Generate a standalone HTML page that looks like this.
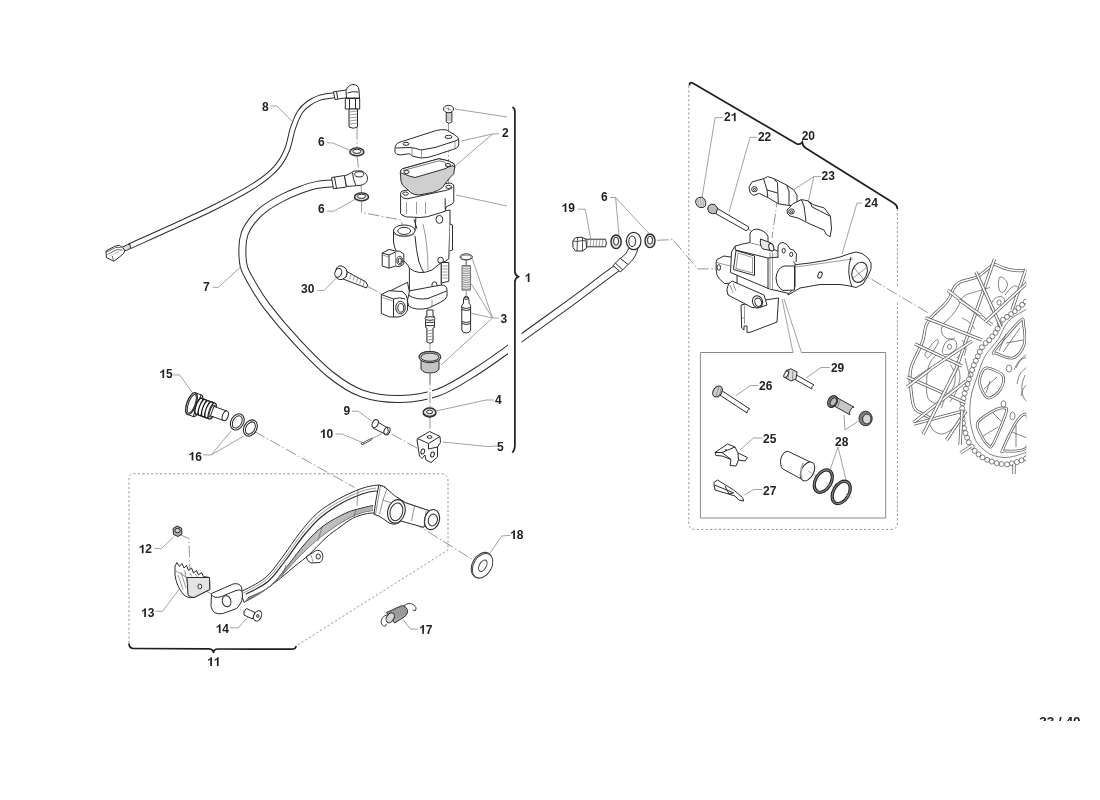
<!DOCTYPE html>
<html><head><meta charset="utf-8"><style>
html,body{margin:0;padding:0;background:#fff;width:1100px;height:800px;overflow:hidden}
svg{position:absolute;left:0;top:0;will-change:transform}
text{font-family:"Liberation Sans",sans-serif;font-weight:bold;font-size:12px;fill:#222}
.ld{fill:none;stroke:#8a8a8a;stroke-width:0.8}
.dd{fill:none;stroke:#8a8a8a;stroke-width:0.9;stroke-dasharray:11.5 2.5 1.5 2.5}
.br{fill:none;stroke:#1e1e1e;stroke-width:1.7}
.db{fill:none;stroke:#8a8a8a;stroke-width:0.9;stroke-dasharray:2.2 2.2}
.kb{fill:none;stroke:#8a8a8a;stroke-width:1}
.o{fill:#fff;stroke:#2b2b2b;stroke-width:1;stroke-linejoin:round}
.on{fill:none;stroke:#2b2b2b;stroke-width:1;stroke-linejoin:round}
.t{fill:none;stroke:#555;stroke-width:0.6}
.w{fill:none;stroke:#6a6a6a;stroke-width:0.7}
</style></head>
<body><svg width="1100" height="800" viewBox="0 0 1100 800"><path class="dd" d="M448.5,123.0 L448.5,186.0"/><path class="dd" d="M357.0,128.0 L357.0,148.0"/><path class="dd" d="M357.0,156.0 L359.0,172.0"/><path class="dd" d="M361.0,184.0 L361.5,194.0"/><path class="dd" d="M361.6,201.0 L361.6,212.5 L401.2,220.0 L403.0,228.8"/><path class="dd" d="M367.0,286.0 L383.5,295.0"/><path class="dd" d="M430.0,343.0 L430.0,352.0"/><path class="dd" d="M430.0,372.0 L430.0,408.0"/><path class="dd" d="M430.0,417.0 L430.0,431.0"/><path class="dd" d="M466.2,260.0 L466.2,265.0"/><path class="dd" d="M466.2,290.6 L466.2,296.0"/><path class="dd" d="M391.5,434.0 L418.2,448.7"/><path class="dd" d="M372.4,438.5 L382.0,433.5"/><path class="dd" d="M254.5,431.5 L354.5,487.5"/><path class="dd" d="M179.0,534.3 L188.8,538.4 L190.0,570.0"/><path class="dd" d="M202.5,589.3 L213.5,594.8"/><path class="dd" d="M227.3,603.0 L246.5,612.7"/><path class="dd" d="M397.5,512.5 L472.8,559.8"/><path class="dd" d="M657.0,240.3 L673.0,239.6 L697.7,268.9 L715.7,268.9"/><path class="dd" d="M856.0,270.0 L930.0,314.0"/><path class="dd" d="M778.0,196.0 L772.0,238.0"/><path class="dd" d="M748.0,229.0 L756.0,234.0"/><path class="dd" d="M625.0,241.0 L628.0,241.0"/><path class="dd" d="M611.0,242.0 L613.0,242.0"/><path class="db" d="M129,643 L129,479 Q129,473.75 134,473.75 L441,473.75 Q448,473.75 448,481 L448,550 L296,646"/><path class="db" d="M688.8,86 L688.8,523 Q688.8,529.4 695,529.4 L891,529.4 Q897.4,529.4 897.4,523 L897.4,302.4 M897.4,285.8 L897.4,209"/><path class="kb" d="M793,352.5 L700.4,352.5 L700.4,518 L885.7,518 L885.7,352.5 L801.4,352.5"/><clipPath id="wclip"><rect x="880" y="240" width="146.3" height="240"/></clipPath><g clip-path="url(#wclip)"><path d="M1027.0,270.5 C1025.0,270.5 1018.7,270.8 1015.0,270.5 C1011.3,270.2 1008.3,269.5 1005.0,268.5 C1001.7,267.5 997.5,264.8 995.0,264.5 C992.5,264.2 992.2,265.5 990.0,267.0 C987.8,268.5 984.6,271.7 982.0,273.5 C979.4,275.3 978.0,276.6 974.6,277.9 C971.2,279.2 964.5,280.2 961.5,281.4 C958.5,282.6 957.8,283.5 956.3,284.9 C954.8,286.3 954.0,287.8 952.8,290.0 C951.6,292.2 950.8,295.5 949.3,298.0 C947.8,300.5 946.5,302.4 944.0,305.0 C941.5,307.6 936.9,311.3 934.4,313.8 C931.9,316.3 930.5,317.8 929.0,320.0 C927.5,322.2 926.6,323.7 925.6,327.0 C924.6,330.3 924.3,335.8 923.0,340.0 C921.7,344.2 919.5,348.7 918.0,352.0 C916.5,355.3 915.2,357.3 914.0,360.0 C912.8,362.7 911.7,365.3 911.0,368.0 C910.3,370.7 910.0,372.3 910.0,376.0 C910.0,379.7 910.5,385.3 911.0,390.0 C911.5,394.7 912.2,400.7 913.0,404.0 C913.8,407.3 914.5,408.4 916.0,410.0 C917.5,411.6 919.7,412.2 922.0,413.5 C924.3,414.8 928.7,417.2 930.0,418.0" style="fill:none;stroke:#5a5a5a;stroke-width:3.05;stroke-linejoin:round"/><path d="M1027.0,270.5 C1025.0,270.5 1018.7,270.8 1015.0,270.5 C1011.3,270.2 1008.3,269.5 1005.0,268.5 C1001.7,267.5 997.5,264.8 995.0,264.5 C992.5,264.2 992.2,265.5 990.0,267.0 C987.8,268.5 984.6,271.7 982.0,273.5 C979.4,275.3 978.0,276.6 974.6,277.9 C971.2,279.2 964.5,280.2 961.5,281.4 C958.5,282.6 957.8,283.5 956.3,284.9 C954.8,286.3 954.0,287.8 952.8,290.0 C951.6,292.2 950.8,295.5 949.3,298.0 C947.8,300.5 946.5,302.4 944.0,305.0 C941.5,307.6 936.9,311.3 934.4,313.8 C931.9,316.3 930.5,317.8 929.0,320.0 C927.5,322.2 926.6,323.7 925.6,327.0 C924.6,330.3 924.3,335.8 923.0,340.0 C921.7,344.2 919.5,348.7 918.0,352.0 C916.5,355.3 915.2,357.3 914.0,360.0 C912.8,362.7 911.7,365.3 911.0,368.0 C910.3,370.7 910.0,372.3 910.0,376.0 C910.0,379.7 910.5,385.3 911.0,390.0 C911.5,394.7 912.2,400.7 913.0,404.0 C913.8,407.3 914.5,408.4 916.0,410.0 C917.5,411.6 919.7,412.2 922.0,413.5 C924.3,414.8 928.7,417.2 930.0,418.0" style="fill:none;stroke:#fff;stroke-width:1.55;stroke-linejoin:round"/><path style="fill:none;stroke:#5a5a5a;stroke-width:0.75;stroke-linejoin:round" d="M990.0,287.5 C987.5,288.2 978.9,290.8 975.0,292.0 C971.1,293.2 969.0,293.4 966.8,294.5 C964.5,295.6 963.0,296.8 961.5,298.9 C960.0,300.9 959.6,304.0 958.0,306.8 C956.4,309.6 954.2,312.7 951.9,315.5 C949.6,318.3 945.8,320.9 944.0,323.4 C942.2,325.9 941.4,328.2 941.4,330.4 C941.4,332.6 942.7,335.1 944.0,336.5 C945.3,337.9 947.5,338.8 949.3,339.0 C951.1,339.2 954.0,338.2 955.0,338.0"/><path style="fill:none;stroke:#5a5a5a;stroke-width:0.75;stroke-linejoin:round" d="M937.0,354.0 C936.0,355.2 932.6,358.2 931.0,361.0 C929.4,363.8 928.2,366.5 927.5,371.0 C926.8,375.5 926.4,383.5 926.5,388.0 C926.6,392.5 926.8,395.5 928.0,398.0 C929.2,400.5 931.8,401.9 934.0,403.0 C936.2,404.1 939.8,404.2 941.0,404.5"/><path style="fill:none;stroke:#5a5a5a;stroke-width:0.75;stroke-linejoin:round" d="M929.0,423.0 C929.8,424.3 931.8,429.2 934.0,431.0 C936.2,432.8 939.3,434.1 942.0,434.0 C944.7,433.9 947.7,432.0 950.0,430.5 C952.3,429.0 955.0,425.9 956.0,425.0"/><path style="fill:none;stroke:#5a5a5a;stroke-width:0.75;stroke-linejoin:round" d="M950.5,364.5 C951.2,366.2 954.5,371.2 955.0,375.0 C955.5,378.8 955.0,383.5 953.5,387.0 C952.0,390.5 948.0,392.5 946.0,396.0 C944.0,399.5 942.2,406.0 941.5,408.0"/><path style="fill:none;stroke:#5a5a5a;stroke-width:0.75;stroke-linejoin:round" d="M958.0,366.0 C958.3,368.0 960.3,373.7 960.0,378.0 C959.7,382.3 957.7,388.0 956.0,392.0 C954.3,396.0 951.0,400.3 950.0,402.0"/><path style="fill:none;stroke:#5a5a5a;stroke-width:0.75;stroke-linejoin:round" d="M962.0,340.0 C962.7,341.3 965.7,345.3 966.0,348.0 C966.3,350.7 964.3,354.7 964.0,356.0"/><path style="fill:none;stroke:#5a5a5a;stroke-width:0.75;stroke-linejoin:round" d="M957.0,358.0 C957.8,357.0 960.7,354.3 962.0,352.0 C963.3,349.7 964.5,345.3 965.0,344.0"/><path style="fill:none;stroke:#5a5a5a;stroke-width:0.75;stroke-linejoin:round" d="M965.0,358.0 C965.5,360.0 967.0,366.8 968.0,370.0 C969.0,373.2 970.5,375.8 971.0,377.0"/><path style="fill:none;stroke:#5a5a5a;stroke-width:0.75;stroke-linejoin:round" d="M962.0,318.0 C963.2,318.7 966.8,320.2 969.0,322.0 C971.2,323.8 974.0,327.8 975.0,329.0"/><path style="fill:none;stroke:#5a5a5a;stroke-width:0.75;stroke-linejoin:round" d="M1000.0,277.0 C1001.1,276.4 1003.8,278.2 1005.0,279.5 C1006.2,280.8 1007.8,282.9 1007.5,285.0 C1007.2,287.1 1004.8,291.1 1003.5,292.0 C1002.2,292.9 1000.3,292.0 999.5,290.5 C998.7,289.0 998.4,285.2 998.5,283.0 C998.6,280.8 998.9,277.6 1000.0,277.0Z"/><path style="fill:none;stroke:#5a5a5a;stroke-width:0.75;stroke-linejoin:round" d="M990.5,306.0 C990.9,304.2 992.4,301.1 994.0,299.5 C995.6,297.9 998.2,296.5 1000.0,296.5 C1001.8,296.5 1003.9,297.8 1004.5,299.5 C1005.1,301.2 1004.8,304.7 1003.5,306.5 C1002.2,308.3 999.0,309.9 997.0,310.5 C995.0,311.1 992.6,310.8 991.5,310.0 C990.4,309.2 990.1,307.8 990.5,306.0Z"/><ellipse cx="999" cy="302.5" rx="2" ry="2.6" style="fill:none;stroke:#5a5a5a;stroke-width:0.75;stroke-linejoin:round"/><path style="fill:none;stroke:#5a5a5a;stroke-width:0.75;stroke-linejoin:round" d="M942.5,350.0 C942.9,348.0 944.4,343.8 946.0,342.0 C947.6,340.2 950.2,339.4 952.0,339.5 C953.8,339.6 955.9,340.8 956.5,342.5 C957.1,344.2 956.8,347.6 955.5,349.5 C954.2,351.4 951.0,353.2 949.0,354.0 C947.0,354.8 944.6,354.7 943.5,354.0 C942.4,353.3 942.1,352.0 942.5,350.0Z"/><ellipse cx="949.5" cy="346.8" rx="2" ry="2.6" style="fill:none;stroke:#5a5a5a;stroke-width:0.75;stroke-linejoin:round"/><path style="fill:none;stroke:#5a5a5a;stroke-width:0.75;stroke-linejoin:round" d="M935.5,340.5 C937.6,338.8 939.1,340.2 938.0,343.0 C936.9,345.8 931.0,354.8 929.0,357.0 C927.0,359.2 926.6,357.2 926.0,356.5 C925.4,355.8 923.9,355.7 925.5,353.0 C927.1,350.3 933.4,342.2 935.5,340.5Z"/><path style="fill:none;stroke:#5a5a5a;stroke-width:0.75;stroke-linejoin:round" d="M1005.0,295.0 C1006.0,293.8 1009.2,289.5 1011.0,288.0 C1012.8,286.5 1014.5,285.7 1016.0,286.0 C1017.5,286.3 1019.3,289.3 1020.0,290.0"/><circle cx="1025.8" cy="301.6" r="2.5" style="fill:none;stroke:#5a5a5a;stroke-width:0.75;stroke-linejoin:round"/><circle cx="1022.1" cy="304.8" r="2.5" style="fill:none;stroke:#5a5a5a;stroke-width:0.75;stroke-linejoin:round"/><circle cx="1018.4" cy="308.0" r="2.5" style="fill:none;stroke:#5a5a5a;stroke-width:0.75;stroke-linejoin:round"/><circle cx="1014.7" cy="311.2" r="2.5" style="fill:none;stroke:#5a5a5a;stroke-width:0.75;stroke-linejoin:round"/><circle cx="1011.0" cy="314.1" r="2.5" style="fill:none;stroke:#5a5a5a;stroke-width:0.75;stroke-linejoin:round"/><circle cx="1007.0" cy="316.9" r="2.5" style="fill:none;stroke:#5a5a5a;stroke-width:0.75;stroke-linejoin:round"/><circle cx="1002.9" cy="319.8" r="2.5" style="fill:none;stroke:#5a5a5a;stroke-width:0.75;stroke-linejoin:round"/><circle cx="999.8" cy="324.5" r="2.5" style="fill:none;stroke:#5a5a5a;stroke-width:0.75;stroke-linejoin:round"/><circle cx="997.6" cy="328.8" r="2.5" style="fill:none;stroke:#5a5a5a;stroke-width:0.75;stroke-linejoin:round"/><circle cx="995.6" cy="332.8" r="2.5" style="fill:none;stroke:#5a5a5a;stroke-width:0.75;stroke-linejoin:round"/><circle cx="992.4" cy="336.5" r="2.5" style="fill:none;stroke:#5a5a5a;stroke-width:0.75;stroke-linejoin:round"/><circle cx="989.2" cy="340.2" r="2.5" style="fill:none;stroke:#5a5a5a;stroke-width:0.75;stroke-linejoin:round"/><circle cx="985.7" cy="343.2" r="2.5" style="fill:none;stroke:#5a5a5a;stroke-width:0.75;stroke-linejoin:round"/><circle cx="981.9" cy="347.3" r="2.5" style="fill:none;stroke:#5a5a5a;stroke-width:0.75;stroke-linejoin:round"/><circle cx="979.8" cy="351.8" r="2.5" style="fill:none;stroke:#5a5a5a;stroke-width:0.75;stroke-linejoin:round"/><circle cx="977.8" cy="356.3" r="2.5" style="fill:none;stroke:#5a5a5a;stroke-width:0.75;stroke-linejoin:round"/><circle cx="975.8" cy="360.8" r="2.5" style="fill:none;stroke:#5a5a5a;stroke-width:0.75;stroke-linejoin:round"/><circle cx="973.8" cy="365.2" r="2.5" style="fill:none;stroke:#5a5a5a;stroke-width:0.75;stroke-linejoin:round"/><circle cx="972.1" cy="370.0" r="2.5" style="fill:none;stroke:#5a5a5a;stroke-width:0.75;stroke-linejoin:round"/><circle cx="970.6" cy="374.6" r="2.5" style="fill:none;stroke:#5a5a5a;stroke-width:0.75;stroke-linejoin:round"/><circle cx="969.0" cy="379.3" r="2.5" style="fill:none;stroke:#5a5a5a;stroke-width:0.75;stroke-linejoin:round"/><circle cx="967.5" cy="383.9" r="2.5" style="fill:none;stroke:#5a5a5a;stroke-width:0.75;stroke-linejoin:round"/><circle cx="966.0" cy="388.7" r="2.5" style="fill:none;stroke:#5a5a5a;stroke-width:0.75;stroke-linejoin:round"/><circle cx="964.6" cy="393.4" r="2.5" style="fill:none;stroke:#5a5a5a;stroke-width:0.75;stroke-linejoin:round"/><circle cx="963.5" cy="398.3" r="2.5" style="fill:none;stroke:#5a5a5a;stroke-width:0.75;stroke-linejoin:round"/><circle cx="962.5" cy="403.1" r="2.5" style="fill:none;stroke:#5a5a5a;stroke-width:0.75;stroke-linejoin:round"/><circle cx="962.2" cy="408.3" r="2.5" style="fill:none;stroke:#5a5a5a;stroke-width:0.75;stroke-linejoin:round"/><circle cx="962.2" cy="413.2" r="2.5" style="fill:none;stroke:#5a5a5a;stroke-width:0.75;stroke-linejoin:round"/><circle cx="962.5" cy="418.3" r="2.5" style="fill:none;stroke:#5a5a5a;stroke-width:0.75;stroke-linejoin:round"/><circle cx="963.0" cy="423.2" r="2.5" style="fill:none;stroke:#5a5a5a;stroke-width:0.75;stroke-linejoin:round"/><circle cx="964.1" cy="428.3" r="2.5" style="fill:none;stroke:#5a5a5a;stroke-width:0.75;stroke-linejoin:round"/><circle cx="965.5" cy="433.0" r="2.5" style="fill:none;stroke:#5a5a5a;stroke-width:0.75;stroke-linejoin:round"/><circle cx="967.1" cy="437.7" r="2.5" style="fill:none;stroke:#5a5a5a;stroke-width:0.75;stroke-linejoin:round"/><circle cx="968.8" cy="442.3" r="2.5" style="fill:none;stroke:#5a5a5a;stroke-width:0.75;stroke-linejoin:round"/><circle cx="971.7" cy="446.9" r="2.5" style="fill:none;stroke:#5a5a5a;stroke-width:0.75;stroke-linejoin:round"/><circle cx="974.6" cy="450.8" r="2.5" style="fill:none;stroke:#5a5a5a;stroke-width:0.75;stroke-linejoin:round"/><circle cx="978.6" cy="454.4" r="2.5" style="fill:none;stroke:#5a5a5a;stroke-width:0.75;stroke-linejoin:round"/><circle cx="982.5" cy="457.4" r="2.5" style="fill:none;stroke:#5a5a5a;stroke-width:0.75;stroke-linejoin:round"/><circle cx="987.2" cy="459.8" r="2.5" style="fill:none;stroke:#5a5a5a;stroke-width:0.75;stroke-linejoin:round"/><circle cx="991.8" cy="461.6" r="2.5" style="fill:none;stroke:#5a5a5a;stroke-width:0.75;stroke-linejoin:round"/><circle cx="996.7" cy="463.2" r="2.5" style="fill:none;stroke:#5a5a5a;stroke-width:0.75;stroke-linejoin:round"/><circle cx="1001.6" cy="464.1" r="2.5" style="fill:none;stroke:#5a5a5a;stroke-width:0.75;stroke-linejoin:round"/><circle cx="1007.1" cy="464.4" r="2.5" style="fill:none;stroke:#5a5a5a;stroke-width:0.75;stroke-linejoin:round"/><circle cx="1011.9" cy="463.5" r="2.5" style="fill:none;stroke:#5a5a5a;stroke-width:0.75;stroke-linejoin:round"/><circle cx="1016.9" cy="462.1" r="2.5" style="fill:none;stroke:#5a5a5a;stroke-width:0.75;stroke-linejoin:round"/><circle cx="1021.5" cy="460.3" r="2.5" style="fill:none;stroke:#5a5a5a;stroke-width:0.75;stroke-linejoin:round"/><circle cx="1026.0" cy="458.4" r="2.5" style="fill:none;stroke:#5a5a5a;stroke-width:0.75;stroke-linejoin:round"/><path style="fill:none;stroke:#5a5a5a;stroke-width:0.75;stroke-linejoin:round" d="M1027.0,309.0 C1024.5,310.5 1015.7,315.2 1012.0,318.0 C1008.3,320.8 1007.2,322.7 1005.0,326.0 C1002.8,329.3 1001.2,334.5 999.0,338.0 C996.8,341.5 994.3,344.0 992.0,347.0 C989.7,350.0 987.0,352.5 985.0,356.0 C983.0,359.5 981.5,364.0 980.0,368.0 C978.5,372.0 977.3,376.0 976.0,380.0 C974.7,384.0 973.0,387.8 972.0,392.0 C971.0,396.2 970.3,400.7 970.0,405.0 C969.7,409.3 969.7,413.8 970.0,418.0 C970.3,422.2 971.0,426.2 972.0,430.0 C973.0,433.8 974.2,437.8 976.0,441.0 C977.8,444.2 980.3,446.7 983.0,449.0 C985.7,451.3 988.5,453.6 992.0,455.0 C995.5,456.4 1000.2,457.3 1004.0,457.5 C1007.8,457.7 1011.2,456.9 1015.0,456.0 C1018.8,455.1 1025.0,452.7 1027.0,452.0"/><path d="M995.0,350.0 C998.8,344.6 1015.2,325.3 1020.0,321.0 C1024.8,316.7 1022.8,320.0 1023.5,324.0 C1024.2,328.0 1025.8,339.3 1024.0,345.0 C1022.2,350.7 1017.5,356.6 1013.0,358.0 C1008.5,359.4 1000.0,354.8 997.0,353.5 C994.0,352.2 991.2,355.4 995.0,350.0Z" style="fill:none;stroke:#5a5a5a;stroke-width:2.75;stroke-linejoin:round"/><path d="M995.0,350.0 C998.8,344.6 1015.2,325.3 1020.0,321.0 C1024.8,316.7 1022.8,320.0 1023.5,324.0 C1024.2,328.0 1025.8,339.3 1024.0,345.0 C1022.2,350.7 1017.5,356.6 1013.0,358.0 C1008.5,359.4 1000.0,354.8 997.0,353.5 C994.0,352.2 991.2,355.4 995.0,350.0Z" style="fill:none;stroke:#fff;stroke-width:1.25;stroke-linejoin:round"/><path style="fill:none;stroke:#5a5a5a;stroke-width:0.75;stroke-linejoin:round" d="M999.0,351.0 L1006.0,334.0"/><path style="fill:none;stroke:#5a5a5a;stroke-width:0.75;stroke-linejoin:round" d="M1003.0,352.0 L1020.0,328.0"/><path style="fill:none;stroke:#5a5a5a;stroke-width:0.75;stroke-linejoin:round" d="M1006.0,343.0 L1023.0,340.0"/><path d="M982.0,372.0 C983.3,369.2 984.5,367.3 988.0,368.0 C991.5,368.7 1001.0,372.3 1003.0,376.0 C1005.0,379.7 1002.5,386.3 1000.0,390.0 C997.5,393.7 991.3,398.8 988.0,398.0 C984.7,397.2 981.0,389.3 980.0,385.0 C979.0,380.7 980.7,374.8 982.0,372.0Z" style="fill:none;stroke:#5a5a5a;stroke-width:2.75;stroke-linejoin:round"/><path d="M982.0,372.0 C983.3,369.2 984.5,367.3 988.0,368.0 C991.5,368.7 1001.0,372.3 1003.0,376.0 C1005.0,379.7 1002.5,386.3 1000.0,390.0 C997.5,393.7 991.3,398.8 988.0,398.0 C984.7,397.2 981.0,389.3 980.0,385.0 C979.0,380.7 980.7,374.8 982.0,372.0Z" style="fill:none;stroke:#fff;stroke-width:1.25;stroke-linejoin:round"/><path style="fill:none;stroke:#5a5a5a;stroke-width:0.75;stroke-linejoin:round" d="M984.0,389.0 L997.0,377.0"/><path style="fill:none;stroke:#5a5a5a;stroke-width:0.75;stroke-linejoin:round" d="M986.0,393.0 L990.0,381.0"/><path d="M978.0,422.0 C980.5,418.2 990.7,412.3 995.0,410.0 C999.3,407.7 1002.2,407.5 1004.0,408.0 C1005.8,408.5 1007.8,407.0 1006.0,413.0 C1004.2,419.0 996.0,438.7 993.0,444.0 C990.0,449.3 990.2,446.8 988.0,445.0 C985.8,443.2 981.7,436.8 980.0,433.0 C978.3,429.2 975.5,425.8 978.0,422.0Z" style="fill:none;stroke:#5a5a5a;stroke-width:2.75;stroke-linejoin:round"/><path d="M978.0,422.0 C980.5,418.2 990.7,412.3 995.0,410.0 C999.3,407.7 1002.2,407.5 1004.0,408.0 C1005.8,408.5 1007.8,407.0 1006.0,413.0 C1004.2,419.0 996.0,438.7 993.0,444.0 C990.0,449.3 990.2,446.8 988.0,445.0 C985.8,443.2 981.7,436.8 980.0,433.0 C978.3,429.2 975.5,425.8 978.0,422.0Z" style="fill:none;stroke:#fff;stroke-width:1.25;stroke-linejoin:round"/><path style="fill:none;stroke:#5a5a5a;stroke-width:0.75;stroke-linejoin:round" d="M983.0,436.0 L998.0,427.0"/><path style="fill:none;stroke:#5a5a5a;stroke-width:0.75;stroke-linejoin:round" d="M992.0,412.0 L1001.0,421.0"/><path d="M1003.0,449.0 C1005.0,444.0 1013.0,426.5 1017.0,421.0 C1021.0,415.5 1025.3,411.7 1027.0,416.0 C1028.7,420.3 1030.7,441.2 1027.0,447.0 C1023.3,452.8 1009.0,450.7 1005.0,451.0 C1001.0,451.3 1001.0,454.0 1003.0,449.0Z" style="fill:none;stroke:#5a5a5a;stroke-width:2.75;stroke-linejoin:round"/><path d="M1003.0,449.0 C1005.0,444.0 1013.0,426.5 1017.0,421.0 C1021.0,415.5 1025.3,411.7 1027.0,416.0 C1028.7,420.3 1030.7,441.2 1027.0,447.0 C1023.3,452.8 1009.0,450.7 1005.0,451.0 C1001.0,451.3 1001.0,454.0 1003.0,449.0Z" style="fill:none;stroke:#fff;stroke-width:1.25;stroke-linejoin:round"/><path style="fill:none;stroke:#5a5a5a;stroke-width:0.75;stroke-linejoin:round" d="M1016.0,425.0 L1016.0,447.0"/><path style="fill:none;stroke:#5a5a5a;stroke-width:0.75;stroke-linejoin:round" d="M1012.0,432.0 L1027.0,438.0"/><ellipse cx="1009.0" cy="368.5" rx="2.6" ry="3.6" style="fill:none;stroke:#5a5a5a;stroke-width:0.75;stroke-linejoin:round"/><ellipse cx="1012.5" cy="416.0" rx="2.6" ry="3.8" style="fill:none;stroke:#5a5a5a;stroke-width:0.75;stroke-linejoin:round"/><ellipse cx="1003.5" cy="404.0" rx="2.4" ry="3.3" style="fill:none;stroke:#5a5a5a;stroke-width:0.75;stroke-linejoin:round"/><path style="fill:none;stroke:#5a5a5a;stroke-width:0.75;stroke-linejoin:round" d="M1014.0,370.0 C1014.8,368.5 1016.8,363.7 1019.0,361.0 C1021.2,358.3 1025.7,355.2 1027.0,354.0"/><path style="fill:none;stroke:#5a5a5a;stroke-width:0.75;stroke-linejoin:round" d="M1016.0,368.0 C1016.8,366.7 1019.2,361.8 1021.0,360.0 C1022.8,358.2 1026.0,357.5 1027.0,357.0"/><path style="fill:none;stroke:#5a5a5a;stroke-width:0.75;stroke-linejoin:round" d="M1017.0,384.0 C1017.5,382.3 1018.3,376.8 1020.0,374.0 C1021.7,371.2 1025.8,368.2 1027.0,367.0"/><path style="fill:none;stroke:#5a5a5a;stroke-width:0.75;stroke-linejoin:round" d="M1021.0,396.0 C1021.3,394.8 1022.0,390.8 1023.0,389.0 C1024.0,387.2 1026.3,385.7 1027.0,385.0"/><path style="fill:none;stroke:#5a5a5a;stroke-width:0.75;stroke-linejoin:round" d="M1025.0,375.0 C1024.5,376.7 1022.3,381.5 1022.0,385.0 C1021.7,388.5 1022.2,393.2 1023.0,396.0 C1023.8,398.8 1026.3,401.0 1027.0,402.0"/><path d="M994.5,259.0 L955.0,372.0" style="fill:none;stroke:#5a5a5a;stroke-width:3.25;stroke-linejoin:round"/><path d="M994.5,259.0 L955.0,372.0" style="fill:none;stroke:#fff;stroke-width:1.75;stroke-linejoin:round"/><path d="M976.0,272.0 L1001.0,327.0" style="fill:none;stroke:#5a5a5a;stroke-width:3.25;stroke-linejoin:round"/><path d="M976.0,272.0 L1001.0,327.0" style="fill:none;stroke:#fff;stroke-width:1.75;stroke-linejoin:round"/><path d="M947.5,290.0 L992.0,325.0" style="fill:none;stroke:#5a5a5a;stroke-width:3.25;stroke-linejoin:round"/><path d="M947.5,290.0 L992.0,325.0" style="fill:none;stroke:#fff;stroke-width:1.75;stroke-linejoin:round"/><path d="M1026.0,269.0 L1012.0,310.0" style="fill:none;stroke:#5a5a5a;stroke-width:3.25;stroke-linejoin:round"/><path d="M1026.0,269.0 L1012.0,310.0" style="fill:none;stroke:#fff;stroke-width:1.75;stroke-linejoin:round"/><path d="M1027.0,283.0 L985.0,322.0" style="fill:none;stroke:#5a5a5a;stroke-width:3.25;stroke-linejoin:round"/><path d="M1027.0,283.0 L985.0,322.0" style="fill:none;stroke:#fff;stroke-width:1.75;stroke-linejoin:round"/><path d="M925.2,317.7 L982.0,340.0" style="fill:none;stroke:#5a5a5a;stroke-width:3.25;stroke-linejoin:round"/><path d="M925.2,317.7 L982.0,340.0" style="fill:none;stroke:#fff;stroke-width:1.75;stroke-linejoin:round"/><path d="M915.0,344.0 L962.0,366.0" style="fill:none;stroke:#5a5a5a;stroke-width:3.25;stroke-linejoin:round"/><path d="M915.0,344.0 L962.0,366.0" style="fill:none;stroke:#fff;stroke-width:1.75;stroke-linejoin:round"/><path d="M972.0,341.0 L914.0,380.0" style="fill:none;stroke:#5a5a5a;stroke-width:3.25;stroke-linejoin:round"/><path d="M972.0,341.0 L914.0,380.0" style="fill:none;stroke:#fff;stroke-width:1.75;stroke-linejoin:round"/><path d="M907.0,377.0 L965.0,402.5" style="fill:none;stroke:#5a5a5a;stroke-width:3.25;stroke-linejoin:round"/><path d="M907.0,377.0 L965.0,402.5" style="fill:none;stroke:#fff;stroke-width:1.75;stroke-linejoin:round"/><path d="M907.0,387.0 L931.0,369.0" style="fill:none;stroke:#5a5a5a;stroke-width:3.25;stroke-linejoin:round"/><path d="M907.0,387.0 L931.0,369.0" style="fill:none;stroke:#fff;stroke-width:1.75;stroke-linejoin:round"/><path d="M913.5,422.5 L966.0,381.0" style="fill:none;stroke:#5a5a5a;stroke-width:3.25;stroke-linejoin:round"/><path d="M913.5,422.5 L966.0,381.0" style="fill:none;stroke:#fff;stroke-width:1.75;stroke-linejoin:round"/><path d="M914.0,424.0 L963.0,411.0" style="fill:none;stroke:#5a5a5a;stroke-width:3.25;stroke-linejoin:round"/><path d="M914.0,424.0 L963.0,411.0" style="fill:none;stroke:#fff;stroke-width:1.75;stroke-linejoin:round"/><path d="M923.0,434.5 L956.0,369.0" style="fill:none;stroke:#5a5a5a;stroke-width:3.25;stroke-linejoin:round"/><path d="M923.0,434.5 L956.0,369.0" style="fill:none;stroke:#fff;stroke-width:1.75;stroke-linejoin:round"/><path d="M946.5,440.0 L966.0,411.0" style="fill:none;stroke:#5a5a5a;stroke-width:3.25;stroke-linejoin:round"/><path d="M946.5,440.0 L966.0,411.0" style="fill:none;stroke:#fff;stroke-width:1.75;stroke-linejoin:round"/><path d="M960.0,445.0 L962.0,411.0" style="fill:none;stroke:#5a5a5a;stroke-width:3.25;stroke-linejoin:round"/><path d="M960.0,445.0 L962.0,411.0" style="fill:none;stroke:#fff;stroke-width:1.75;stroke-linejoin:round"/><path d="M960.5,453.0 L971.0,446.0" style="fill:none;stroke:#5a5a5a;stroke-width:3.25;stroke-linejoin:round"/><path d="M960.5,453.0 L971.0,446.0" style="fill:none;stroke:#fff;stroke-width:1.75;stroke-linejoin:round"/><path d="M1014.0,464.0 L1014.0,474.0" style="fill:none;stroke:#5a5a5a;stroke-width:3.25;stroke-linejoin:round"/><path d="M1014.0,464.0 L1014.0,474.0" style="fill:none;stroke:#fff;stroke-width:1.75;stroke-linejoin:round"/><path d="M959.0,300.0 L981.0,315.0" style="fill:none;stroke:#5a5a5a;stroke-width:3.25;stroke-linejoin:round"/><path d="M959.0,300.0 L981.0,315.0" style="fill:none;stroke:#fff;stroke-width:1.75;stroke-linejoin:round"/></g><path d="M129.5,246.3 C136.2,243.2 155.8,234.6 170.0,228.0 C184.2,221.4 200.8,214.2 215.0,207.0 C229.2,199.8 244.8,191.5 255.0,185.0 C265.2,178.5 270.7,173.8 276.0,168.0 C281.3,162.2 284.2,156.7 287.0,150.0 C289.8,143.3 290.8,134.3 293.0,128.0 C295.2,121.7 297.4,116.1 300.0,112.0 C302.6,107.9 305.3,105.8 308.5,103.5 C311.7,101.2 314.8,99.4 319.0,98.0 C323.2,96.6 331.5,95.8 334.0,95.3" fill="none" stroke="#2b2b2b" stroke-width="6.00" stroke-linecap="butt" stroke-linejoin="round"/><path d="M129.5,246.3 C136.2,243.2 155.8,234.6 170.0,228.0 C184.2,221.4 200.8,214.2 215.0,207.0 C229.2,199.8 244.8,191.5 255.0,185.0 C265.2,178.5 270.7,173.8 276.0,168.0 C281.3,162.2 284.2,156.7 287.0,150.0 C289.8,143.3 290.8,134.3 293.0,128.0 C295.2,121.7 297.4,116.1 300.0,112.0 C302.6,107.9 305.3,105.8 308.5,103.5 C311.7,101.2 314.8,99.4 319.0,98.0 C323.2,96.6 331.5,95.8 334.0,95.3" fill="none" stroke="#fff" stroke-width="4.00" stroke-linecap="butt" stroke-linejoin="round"/><path class="o" d="M122,247.3 L127.5,244.6 L130,244.4 L130.5,248.2 L126.5,250.6 L124.6,250.4 Z" style="fill:#ddd"/><path class="o" d="M106,251 L114.6,246.3 L119.3,245.3 L122.3,247.4 L124.7,250.2 L124,253 L122.5,254.5 L113.9,261.3 L106.4,257.6 Z" /><path class="on" d="M106.6,252 L116,247.3 L120.8,247.6 M107.5,254.5 L117,249.5 L122.5,250.2 M113.4,260.5 L112.4,256" style="stroke-width:0.7"/><path class="t" d="M109,253.5 L118,249 M110,256 L119,251.5" style="stroke:#999"/><path class="o" d="M333.5,91.8 L346.5,90 L348,97.5 L335,99.5 Z" /><path class="on" d="M336.5,91.4 L337.8,99" /><path class="o" d="M346,90.5 Q348,85 353,84.5 Q358.5,84.5 359,90 L359.5,98 L346.5,98 Z" /><path class="on" d="M347.5,93 Q352,91 358.5,92" /><path class="o" d="M345.3,98.5 L359.7,98.5 L359.7,109 L345.3,109 Z" /><path class="on" d="M349.5,98.5 L349.5,109 M355.5,98.5 L355.5,109" /><path class="o" d="M349,109 L357.5,109 L357.5,127 Q353.3,129.5 349,127 Z" /><path class="t" d="M349.5,112 L357,111" /><path class="t" d="M349.5,115 L357,114" /><path class="t" d="M349.5,118 L357,117" /><path class="t" d="M349.5,121 L357,120" /><path class="t" d="M349.5,124 L357,123" /><ellipse class="o" cx="356.9" cy="151.9" rx="7.0" ry="4.0" style="fill:#dcdcdc;stroke-width:1.4"/><ellipse class="o" cx="356.9" cy="151.3" rx="4.0" ry="2.1" /><ellipse class="o" cx="361.5" cy="196.9" rx="7.0" ry="4.0" style="fill:#dcdcdc;stroke-width:1.4"/><ellipse class="o" cx="361.5" cy="196.3" rx="4.0" ry="2.1" /><path d="M334.0,183.3 C331.2,183.5 323.2,183.6 317.5,184.8 C311.8,185.9 305.4,188.0 299.5,190.2 C293.6,192.4 287.9,194.9 282.0,198.0 C276.1,201.1 269.0,205.2 264.0,209.0 C259.0,212.8 255.2,216.9 252.0,221.0 C248.8,225.1 246.3,229.0 244.7,233.5 C243.1,238.0 242.5,242.4 242.4,248.0 C242.3,253.6 242.3,261.0 244.0,267.0 C245.7,273.0 248.7,277.4 252.5,284.0 C256.3,290.6 259.6,296.8 267.0,306.5 C274.4,316.2 286.6,330.7 297.2,342.0 C307.8,353.3 319.7,365.9 330.5,374.5 C341.3,383.1 350.4,389.4 362.0,393.5 C373.6,397.6 387.3,399.2 400.0,399.0 C412.7,398.8 425.3,397.1 438.0,392.5 C450.7,387.9 463.7,379.2 476.0,371.5 C488.3,363.8 506.0,350.7 512.0,346.5" fill="none" stroke="#2b2b2b" stroke-width="8.00" stroke-linecap="butt" stroke-linejoin="round"/><path d="M334.0,183.3 C331.2,183.5 323.2,183.6 317.5,184.8 C311.8,185.9 305.4,188.0 299.5,190.2 C293.6,192.4 287.9,194.9 282.0,198.0 C276.1,201.1 269.0,205.2 264.0,209.0 C259.0,212.8 255.2,216.9 252.0,221.0 C248.8,225.1 246.3,229.0 244.7,233.5 C243.1,238.0 242.5,242.4 242.4,248.0 C242.3,253.6 242.3,261.0 244.0,267.0 C245.7,273.0 248.7,277.4 252.5,284.0 C256.3,290.6 259.6,296.8 267.0,306.5 C274.4,316.2 286.6,330.7 297.2,342.0 C307.8,353.3 319.7,365.9 330.5,374.5 C341.3,383.1 350.4,389.4 362.0,393.5 C373.6,397.6 387.3,399.2 400.0,399.0 C412.7,398.8 425.3,397.1 438.0,392.5 C450.7,387.9 463.7,379.2 476.0,371.5 C488.3,363.8 506.0,350.7 512.0,346.5" fill="none" stroke="#fff" stroke-width="6.00" stroke-linecap="butt" stroke-linejoin="round"/><path d="M515.0,342.6 C524.2,336.0 554.8,314.1 570.0,303.0 C585.2,291.9 598.2,281.8 606.0,276.0 C613.8,270.2 615.2,269.3 617.0,268.0" fill="none" stroke="#2b2b2b" stroke-width="8.00" stroke-linecap="butt" stroke-linejoin="round"/><path d="M515.0,342.6 C524.2,336.0 554.8,314.1 570.0,303.0 C585.2,291.9 598.2,281.8 606.0,276.0 C613.8,270.2 615.2,269.3 617.0,268.0" fill="none" stroke="#fff" stroke-width="6.00" stroke-linecap="butt" stroke-linejoin="round"/><path class="o" d="M331.5,177.5 L344.5,175.5 L346.5,187 L333.5,188.8 Z" /><path class="on" d="M334.5,177 L336.5,188.4" /><path class="o" d="M344.5,176 Q350,174 354,171 L362,171 Q368,174 367.5,179.5 Q366,185 359,185.5 Q352,186 346.5,186.5 Z" /><ellipse class="o" cx="359.2" cy="174.3" rx="4.5" ry="2.6" /><path class="on" d="M352.5,172.5 Q353,180 356,185.5" /><path class="o" d="M613,265.5 L620.5,258 L628,264.5 L620.5,272 Z" /><path class="on" d="M615.3,263 L622.8,270" /><path class="o" d="M620.5,258.5 Q627,254 629,248 L638,248 Q636,258 628,264.5 Z" /><ellipse class="o" cx="633.7" cy="241.0" rx="7.3" ry="8.6" style="stroke-width:1.2"/><ellipse class="o" cx="632.2" cy="241.3" rx="3.4" ry="5.3" /><path class="t" d="M634.5,236.5 Q637,241 634.6,246" /><path class="o" d="M393.5,231 L393.5,242 Q394,247.5 398,255 Q402,260 405.6,262.5 Q408.5,265.5 409.4,268.2 L409.4,291 L441.3,288 L441.3,262.5 Q446.5,261.5 448.8,258.8 L450,221 L450,210 L416,216 L415,231 Z" /><path class="o" d="M449.7,224 L452.5,225 L452.5,250 L449.7,251" /><ellipse class="o" cx="439.4" cy="219.4" rx="3.4" ry="4.0" /><ellipse class="o" cx="440.6" cy="260.2" rx="2.8" ry="3.0" /><path class="on" d="M415,236 Q416,250 419,262 Q421,268 424,273" /><path class="t" d="M423,224 Q428,245 428,270" /><path class="on" d="M409.4,268.2 Q418.8,276 432,270 L441.3,262.5" /><path class="on" d="M414,219.4 L417,228.8" /><path class="o" d="M400.6,194 Q400.6,191 403,190.8 L448,183.2 Q453.8,182.5 453.8,187 L453.8,201.5 Q453,204.5 450,205 L446.3,206.9 L445,211.25 Q440,213 435,214.4 Q427,217.5 420,217.5 L406.25,216.9 Q400.6,215 400.6,213.5 Z" /><path class="on" d="M401.25,196.25 Q403,198.75 407.5,198.75 L447.5,190 Q451.5,188.5 452.5,187.5" /><path class="on" d="M445.2,198.5 L445.2,209" /><path class="t" d="M406.5,202 L406.5,214" /><path class="t" d="M416.5,202 L416.5,214" /><path class="t" d="M425.5,202 L425.5,214" /><ellipse class="o" cx="405.5" cy="193.6" rx="2.8" ry="1.6" /><ellipse class="o" cx="448.6" cy="186.9" rx="2.8" ry="1.6" /><ellipse class="o" cx="404.2" cy="230.6" rx="10.8" ry="5.6" /><ellipse class="o" cx="404.2" cy="230.9" rx="6.4" ry="3.6" /><path class="t" d="M394,234 Q404.25,239.5 414.6,234" /><path class="o" d="M382.2,253 L389,249.4 L395.5,251 L395.5,266 L389,268.2 L382.2,266 Z" /><path class="on" d="M382.2,253 L389,255 L395.5,252 M389,255 L389,268.2" /><path class="t" d="M383,255 L388.5,257" /><path class="o" d="M395.5,251 Q400,250 403.8,254 L403.8,264 Q400,268 395.5,266.2" /><ellipse class="o" cx="399.6" cy="260.6" rx="2.8" ry="4.2" /><ellipse class="on" cx="399.8" cy="260.8" rx="1.6" ry="2.8" /><path class="o" d="M441.3,262.5 L448.8,262.5 L448.8,281.3 L441.3,283 Z" /><path class="t" d="M442.5,266 L447.5,266" /><path class="t" d="M442.5,269 L447.5,269" /><path class="t" d="M442.5,272 L447.5,272" /><path class="t" d="M442.5,275 L447.5,275" /><path class="t" d="M442.5,278 L447.5,278" /><ellipse class="o" cx="434.5" cy="285.0" rx="2.6" ry="3.2" /><path class="o" d="M407.5,291.25 L441,285 Q447,285 447,290 L447,296.25 Q446,300 440,302.5 L428.75,308 Q416.25,311 408.75,306.25 L407.5,301.25 Z" /><path class="on" d="M408,295 Q417,300.5 428,298.5 L446.5,291" /><path class="t" d="M432,299.5 L432,307" /><path class="o" d="M388.8,291.6 L407.5,282.3 L409.4,292 L407.5,300 L398,303 Z" /><path class="o" d="M381.3,294.5 L389,290.7 L402,291.5 Q407.5,294 407.5,302 L407.5,310 Q405,316 398,317 L390,317 L381.3,313.5 Z" /><path class="on" d="M381.3,294.5 L393.5,299 L393.5,317 M393.5,299 Q400,296.5 405,299" /><path class="t" d="M382.5,297.5 L392.5,301" /><ellipse class="o" cx="400.5" cy="307.6" rx="4.8" ry="6.3" /><ellipse class="on" cx="400.8" cy="307.9" rx="3.0" ry="4.3" /><path class="o" d="M426.9,310 L433,310 L433,316 L434.4,316.5 L434.4,327.5 L433,328 L433,342 Q430,344.5 426.9,342 L426.9,328 L425.6,327.5 L425.6,316.5 L426.9,316 Z" /><ellipse class="o" cx="430.0" cy="318.5" rx="5.0" ry="1.8" /><ellipse class="o" cx="430.0" cy="324.0" rx="5.0" ry="1.8" /><path class="t" d="M427.3,331 L432.6,330" /><path class="t" d="M427.3,334 L432.6,333" /><path class="t" d="M427.3,337 L432.6,336" /><path class="t" d="M427.3,340 L432.6,339" /><path class="o" d="M419,357.1 Q419,351.5 429.85,351.5 Q440.75,351.5 440.75,357.1 L439,360.5 L439,369 Q437,373 430,373 Q423,373 421,369 L421,360.5 Z" style="fill:#c4c4c4"/><ellipse class="o" cx="429.9" cy="357.1" rx="10.9" ry="5.6" style="fill:#d2d2d2"/><ellipse class="o" cx="429.9" cy="357.2" rx="9.0" ry="4.1" style="fill:#d6d6d6"/><path class="o" d="M395,147.5 Q396,143.5 398.75,142.5 L436.25,130.5 Q441,129.3 446.25,129.8 L455,135 Q458.75,137.5 458.75,140 L458.75,145 Q458,148 455,148.75 L436.25,155 Q428,158 421.25,158 L412.5,156.25 Q410,153.5 408.75,153.75 L400,155 Q396,154.5 395,152.5 Z" /><path class="on" d="M395.5,148 L410,147.5 Q416,148 421,150 L435,147.5 L455,141 L458.5,139.4" /><path class="t" d="M412,148 L412,156 M421.5,150 L421.5,158 M455,141 L455,148.5" /><ellipse class="o" cx="406.0" cy="143.8" rx="3.0" ry="1.5" /><ellipse class="o" cx="448.5" cy="136.9" rx="3.5" ry="1.6" /><path class="o" d="M400.3,172.5 Q400.5,169.5 402.5,168.75 L438.75,158.75 L445,160 Q450,161 453.75,163.75 Q455,166 454.7,167.5 L453.75,173.75 L450,177.5 L446.9,181.25 L442.5,187.5 Q438,191 432.5,192.5 L418.75,195 Q413,194.5 410.6,192.5 L402.5,185 Q400.5,181 400.6,176.9 Z" style="fill:#cfcfcf"/><path class="o" d="M400.6,172.5 Q400.3,169.5 402.5,168.75 L438.75,158.75 L445,160 Q450,161 453.75,163.75 Q455,166 454.7,167.5 L453,165.6 L448.75,166.9 L445,168.75 L415,177.5 L410,176.25 L401.25,173 Z" style="fill:#fff"/><path class="on" d="M403,170.5 L438.75,160.9 Q444,161 446.5,163.5 L445.5,166.5" style="stroke:#777"/><ellipse class="o" cx="406.5" cy="172.0" rx="2.6" ry="1.6" /><ellipse class="o" cx="448.0" cy="165.0" rx="2.6" ry="1.5" /><path class="o" d="M446.25,112.5 L451.9,112.5 L451.9,122 Q449,124.5 446.25,122 Z" /><path class="t" d="M446.6,114 L451.5,114" /><path class="t" d="M446.6,116 L451.5,116" /><path class="t" d="M446.6,118 L451.5,118" /><path class="t" d="M446.6,120 L451.5,120" /><ellipse class="o" cx="448.5" cy="109.0" rx="5.0" ry="3.7" /><path class="t" d="M445.5,108 L451.5,110 M448,106.5 L449,111" /><path class="o" d="M344,270 L366,282 Q369,285.5 366.5,288 L343,279 Z" /><path class="t" d="M348.0,271.5 L346.5,277.0" /><path class="t" d="M351.3,273.3 L349.8,278.8" /><path class="t" d="M354.6,275.1 L353.1,280.6" /><path class="t" d="M357.9,276.9 L356.4,282.4" /><path class="t" d="M361.2,278.7 L359.7,284.2" /><path class="t" d="M364.5,280.5 L363.0,286.0" /><path class="o" d="M336,270 Q337,265 342,266 L346,268.5 Q348,272 346,277 L342,279.5 Q337,280 335.5,276 Z" /><ellipse class="o" cx="338.3" cy="272.8" rx="3.3" ry="4.6" transform="rotate(20.0 338.3 272.8)" /><ellipse class="o" cx="466.2" cy="256.9" rx="6.2" ry="3.1" style="stroke-width:0.9;fill:none"/><ellipse class="on" cx="466.2" cy="257.3" rx="5.0" ry="2.2" style="stroke-width:0.6"/><path class="t" d="M466.2,260 L466.2,265" /><path class="o" d="M462,265.5 L470.5,265.5 L470.5,290 L462,290 Z" style="fill:#fff;stroke:#777"/><path class="t" d="M462,266.9 Q466.2,265.5 470.5,266.9" style="stroke:#666;stroke-width:0.7"/><path class="t" d="M462,268.7 Q466.2,267.3 470.5,268.7" style="stroke:#666;stroke-width:0.7"/><path class="t" d="M462,270.5 Q466.2,269.1 470.5,270.5" style="stroke:#666;stroke-width:0.7"/><path class="t" d="M462,272.3 Q466.2,270.9 470.5,272.3" style="stroke:#666;stroke-width:0.7"/><path class="t" d="M462,274.1 Q466.2,272.7 470.5,274.1" style="stroke:#666;stroke-width:0.7"/><path class="t" d="M462,275.9 Q466.2,274.5 470.5,275.9" style="stroke:#666;stroke-width:0.7"/><path class="t" d="M462,277.7 Q466.2,276.3 470.5,277.7" style="stroke:#666;stroke-width:0.7"/><path class="t" d="M462,279.5 Q466.2,278.1 470.5,279.5" style="stroke:#666;stroke-width:0.7"/><path class="t" d="M462,281.3 Q466.2,279.9 470.5,281.3" style="stroke:#666;stroke-width:0.7"/><path class="t" d="M462,283.1 Q466.2,281.7 470.5,283.1" style="stroke:#666;stroke-width:0.7"/><path class="t" d="M462,284.9 Q466.2,283.5 470.5,284.9" style="stroke:#666;stroke-width:0.7"/><path class="t" d="M462,286.7 Q466.2,285.3 470.5,286.7" style="stroke:#666;stroke-width:0.7"/><path class="t" d="M462,288.5 Q466.2,287.1 470.5,288.5" style="stroke:#666;stroke-width:0.7"/><path class="t" d="M462,290.3 Q466.2,288.9 470.5,290.3" style="stroke:#666;stroke-width:0.7"/><path class="o" d="M463.5,300 Q463.8,296.2 466.2,296.2 Q468.7,296.2 469,300 L469,303 L470.6,305.5 L470.6,330 Q470,333 466.2,333 Q462.4,333 461.8,330 L461.8,305.5 L463.5,303 Z" /><ellipse class="on" cx="466.2" cy="298.2" rx="2.2" ry="1.1" /><path class="on" d="M461.8,307.5 Q466.2,309.5 470.6,307.5 M461.8,309.5 Q466.2,311.5 470.6,309.5 M461.8,321.5 Q466.2,323.5 470.6,321.5 M461.8,323.5 Q466.2,325.5 470.6,323.5" /><ellipse class="o" cx="429.6" cy="412.5" rx="6.4" ry="4.5" style="fill:#e4e4e4;stroke-width:1.4"/><ellipse class="o" cx="429.6" cy="411.9" rx="3.0" ry="1.8" /><path class="on" d="M423.5,413.5 Q429.6,419 435.8,413.5" /><path class="o" d="M417.5,438.5 L429.6,431.5 L440,436.5 L440.5,442.5 L437.5,447 L437.5,457 L431,462.5 L426,460 L425,455 L422,458.5 L419.5,456 L417,440 Z" /><path class="on" d="M417.5,438.5 L428.5,443.5 L440,436.5 M428.5,443.5 L428.5,449 M428.5,449 L437.5,447" /><ellipse class="o" cx="429.6" cy="437.0" rx="2.4" ry="1.4" /><ellipse class="o" cx="422.8" cy="451.5" rx="1.8" ry="2.6" transform="rotate(15.0 422.8 451.5)" /><ellipse class="o" cx="432.5" cy="454.5" rx="1.8" ry="2.6" transform="rotate(15.0 432.5 454.5)" /><path class="o" d="M374.3,420 L387,427.5 Q390,431.5 386,434.5 L373,428 Z" /><ellipse class="o" cx="375.2" cy="423.6" rx="2.8" ry="4.2" transform="rotate(25.0 375.2 423.6)" /><ellipse class="on" cx="387.0" cy="431.0" rx="2.8" ry="4.0" transform="rotate(25.0 387.0 431.0)" /><path class="on" d="M363.3,442.5 L372.4,437.8 M364,444 L372.4,439.2" style="stroke-width:0.8"/><ellipse class="on" cx="362.5" cy="443.5" rx="1.3" ry="1.0" /><ellipse class="o" cx="197.1" cy="405.6" rx="4.6" ry="11.5" transform="rotate(20.0 197.1 405.6)" style="stroke-width:1.2"/><path class="o" d="M195.4,392.8 L201.0,394.8 L193.2,416.5 L187.6,414.4Z" /><ellipse class="o" cx="191.5" cy="403.6" rx="4.6" ry="11.5" transform="rotate(20.0 191.5 403.6)" style="stroke-width:1.4"/><ellipse class="on" cx="191.8" cy="403.7" rx="3.3" ry="9.8" transform="rotate(20.0 191.8 403.7)" /><path class="o" d="M200.0,397.7 L215.1,403.1 L209.3,419.1 L194.2,413.6Z" /><ellipse class="o" cx="199.0" cy="406.3" rx="3.0" ry="8.5" transform="rotate(20.0 199.0 406.3)" style="stroke-width:1.2;stroke:#1a1a1a"/><ellipse class="o" cx="202.3" cy="407.5" rx="3.0" ry="8.5" transform="rotate(20.0 202.3 407.5)" style="stroke-width:1.2;stroke:#1a1a1a"/><ellipse class="o" cx="205.6" cy="408.7" rx="3.0" ry="8.5" transform="rotate(20.0 205.6 408.7)" style="stroke-width:1.2;stroke:#1a1a1a"/><ellipse class="o" cx="208.9" cy="409.9" rx="3.0" ry="8.5" transform="rotate(20.0 208.9 409.9)" style="stroke-width:1.2;stroke:#1a1a1a"/><ellipse class="o" cx="212.2" cy="411.1" rx="3.0" ry="8.5" transform="rotate(20.0 212.2 411.1)" style="stroke-width:1.1"/><ellipse class="on" cx="212.2" cy="411.1" rx="2.2" ry="6.2" transform="rotate(20.0 212.2 411.1)" /><path class="o" d="M213.9,406.4 L227.0,411.1 L223.6,420.5 L210.5,415.8Z" /><ellipse class="o" cx="225.3" cy="415.8" rx="2.8" ry="5.0" transform="rotate(20.0 225.3 415.8)" /><ellipse class="o" cx="237.3" cy="421.9" rx="6.3" ry="8.6" transform="rotate(30.0 237.3 421.9)" style="fill:none;stroke-width:1.1"/><ellipse class="o" cx="237.3" cy="421.9" rx="4.3" ry="6.6" transform="rotate(30.0 237.3 421.9)" style="fill:none"/><ellipse class="o" cx="250.4" cy="428.0" rx="6.3" ry="8.6" transform="rotate(30.0 250.4 428.0)" style="fill:none;stroke-width:1.1"/><ellipse class="o" cx="250.4" cy="428.0" rx="4.3" ry="6.6" transform="rotate(30.0 250.4 428.0)" style="fill:none"/><path class="o" d="M240.5,592.0 C244.6,589.7 258.0,583.8 265.0,578.0 C272.0,572.2 276.7,564.6 282.5,557.0 C288.3,549.4 294.2,539.8 300.0,532.5 C305.8,525.2 311.1,518.6 317.5,513.0 C323.9,507.4 331.2,503.1 338.5,499.0 C345.8,494.9 354.6,491.0 361.0,488.7 C367.4,486.4 373.0,485.5 377.0,485.2 C381.0,484.9 383.7,486.7 385.0,487.0 L385.0,513.5 C383.3,513.4 378.3,512.9 375.0,513.0 C371.7,513.1 368.8,513.1 365.0,514.0 C361.2,514.9 356.6,516.3 352.4,518.5 C348.2,520.7 344.4,523.8 340.0,527.0 C335.6,530.2 331.2,533.0 326.0,537.7 C320.8,542.4 313.9,550.3 308.7,555.0 C303.5,559.7 299.7,562.2 295.0,566.0 C290.3,569.8 286.2,573.7 280.7,578.0 C275.2,582.3 268.1,587.9 262.0,592.0 C255.9,596.1 247.0,600.7 244.0,602.4 Z" /><path d="M248.0,597.8 C251.7,595.9 263.5,591.7 270.0,586.5 C276.5,581.3 281.0,573.8 287.0,566.5 C293.0,559.2 299.8,549.3 306.0,542.5 C312.2,535.7 317.3,530.4 324.0,525.5 C330.7,520.6 339.7,515.9 346.0,513.0 C352.3,510.1 357.5,509.2 362.0,508.0 C366.5,506.8 371.2,505.9 373.0,505.5 L373.0,510.5 C370.7,511.0 364.5,511.6 359.4,513.5 C354.2,515.5 348.7,518.1 342.1,522.1 C335.6,526.1 326.9,532.1 320.1,537.5 C313.3,542.9 307.6,548.5 301.4,554.5 C295.3,560.6 289.0,568.0 282.9,574.0 C276.8,579.9 271.1,585.6 264.8,590.1 C258.5,594.5 248.6,599.0 245.4,600.8 Z" style="fill:#d4d4d4;stroke:none"/><path class="on" d="M246.0,594.2 C249.7,592.1 261.5,587.0 268.0,581.5 C274.5,576.0 279.2,568.5 285.0,561.0 C290.8,553.5 297.2,543.7 303.0,536.5 C308.8,529.3 313.7,523.5 320.0,518.0 C326.3,512.5 334.0,507.5 341.0,503.5 C348.0,499.5 356.3,496.1 362.0,494.0 C367.7,491.9 372.2,491.2 375.0,491.0 C377.8,490.8 378.3,492.7 379.0,493.0" style="stroke-width:1.2"/><path class="on" d="M248.0,597.8 C251.7,595.9 263.5,591.7 270.0,586.5 C276.5,581.3 281.0,573.8 287.0,566.5 C293.0,559.2 299.8,549.3 306.0,542.5 C312.2,535.7 317.3,530.4 324.0,525.5 C330.7,520.6 339.7,515.9 346.0,513.0 C352.3,510.1 357.5,509.2 362.0,508.0 C366.5,506.8 371.2,505.9 373.0,505.5" /><path class="on" d="M245.4,600.8 C248.6,599.0 258.5,594.5 264.8,590.1 C271.1,585.6 276.8,579.9 282.9,574.0 C289.0,568.0 295.3,560.6 301.4,554.5 C307.6,548.5 313.3,542.9 320.1,537.5 C326.9,532.1 335.6,526.1 342.1,522.1 C348.7,518.1 354.2,515.5 359.4,513.5 C364.5,511.6 370.7,511.0 373.0,510.5" style="stroke:#555;stroke-width:0.8"/><path class="t" d="M243.0,593.2 C246.8,591.0 259.2,585.5 266.0,579.8 C272.8,574.1 278.1,566.5 284.0,559.0 C289.9,551.5 295.7,541.8 301.5,534.5 C307.3,527.2 312.6,521.0 319.0,515.5 C325.4,509.9 332.9,505.2 340.0,501.2 C347.1,497.2 355.5,493.5 361.5,491.3 C367.5,489.1 373.6,488.6 376.0,488.0" /><path class="t" d="M247.5,598.4 C251.1,596.5 262.5,592.3 269.0,587.2 C275.4,582.1 280.2,575.0 286.2,568.0 C292.2,560.9 298.9,551.6 305.1,544.9 C311.3,538.2 316.5,532.9 323.2,527.9 C329.9,522.9 338.8,518.0 345.2,514.8 C351.6,511.7 356.9,510.5 361.5,509.1 C366.1,507.7 371.1,506.9 373.0,506.5" style="stroke:#8a8a8a;stroke-width:0.5"/><path class="t" d="M247.0,599.0 C250.5,597.2 261.5,592.8 267.9,587.9 C274.3,583.0 279.3,576.3 285.4,569.5 C291.4,562.7 298.0,553.8 304.2,547.3 C310.4,540.8 315.7,535.4 322.4,530.3 C329.2,525.2 338.0,520.0 344.4,516.6 C350.9,513.3 356.2,511.7 361.0,510.2 C365.7,508.7 371.0,508.0 373.0,507.5" style="stroke:#8a8a8a;stroke-width:0.5"/><path class="t" d="M246.4,599.6 C249.8,597.8 260.5,593.4 266.9,588.6 C273.2,583.9 278.5,577.5 284.5,571.0 C290.6,564.5 297.1,556.1 303.3,549.7 C309.5,543.3 314.9,537.9 321.7,532.7 C328.4,527.5 337.2,522.0 343.7,518.5 C350.1,514.9 355.6,513.0 360.4,511.3 C365.3,509.7 370.9,509.0 373.0,508.5" style="stroke:#8a8a8a;stroke-width:0.5"/><path class="t" d="M245.9,600.2 C249.2,598.4 259.5,594.0 265.8,589.4 C272.1,584.7 277.6,578.7 283.7,572.5 C289.8,566.3 296.2,558.3 302.4,552.1 C308.6,545.9 314.1,540.4 320.9,535.1 C327.6,529.8 336.4,524.1 342.9,520.3 C349.4,516.5 354.9,514.2 359.9,512.4 C364.9,510.6 370.8,510.0 373.0,509.5" style="stroke:#8a8a8a;stroke-width:0.5"/><path class="t" d="M286,565 L282,577 M322,527 L318,541 M356,509 L354,517 M358,489.5 L357,506" style="stroke:#555"/><path class="o" d="M211.5,593.5 L233,584 Q239,582.5 241.5,587 L242.5,596 Q242.5,601 239.5,605 L236.5,608.6 L222.7,613.5 Q213,615.5 211,606.5 Z" /><path class="on" d="M211.8,595 Q214,598.5 221,596.8 L236,590.5 Q240,589 242,591" /><ellipse class="o" cx="226.6" cy="601.3" rx="4.3" ry="5.6" transform="rotate(-15.0 226.6 601.3)" /><path class="o" d="M378.8,484.8 Q384,486 387,488.9 L394.4,495.5 L405.8,502.8 L428.7,510.5 L423.8,527.4 L401,521 Q397,525.5 390,523.5 L379,516 L373.9,514.3 L376,500 Z" /><path class="t" d="M380.5,486 Q378,500 375.5,514 M387,489 L383,500 L379.5,514 M383,500 L394,504" style="stroke:#444"/><path class="t" d="M414.5,506 L411.5,521 M405.8,502.8 L428.7,510.5" style="stroke:#444"/><ellipse class="o" cx="396.4" cy="511.4" rx="8.6" ry="11.9" transform="rotate(15.0 396.4 511.4)" style="stroke-width:1.1"/><ellipse class="o" cx="396.4" cy="511.8" rx="6.2" ry="9.0" transform="rotate(15.0 396.4 511.8)" /><ellipse class="o" cx="432.0" cy="519.6" rx="7.4" ry="10.2" transform="rotate(15.0 432.0 519.6)" style="stroke-width:1.1"/><path class="t" d="M426,511 L424.5,527" /><ellipse class="o" cx="432.8" cy="520.0" rx="4.5" ry="6.0" transform="rotate(15.0 432.8 520.0)" /><path class="o" d="M306,557 L313,552.5 Q318,548 322,552.5 Q324.5,559 320,562.5 L311,563 Q307,561 306,557 Z" /><ellipse class="o" cx="318.2" cy="556.5" rx="2.2" ry="2.6" /><path class="t" d="M311,555 L313,562" /><path class="o" d="M173,528.5 L177,526 L181.5,528 L182,534 L178,536.5 L173.5,534.5 Z" style="fill:#a8a8a8"/><ellipse class="o" cx="177.5" cy="530.5" rx="2.6" ry="2.2" style="fill:#d0d0d0"/><path class="o" d="M175,566 L177,562.5 L179.5,566.5 L182,563.5 L184,568 L186.5,565.5 L188.5,570.5 L191.5,568 L193.5,573 L196.5,570.5 L198.5,575 L201.5,572.5 L203.5,576.5 L209.5,577.5 L209.8,589.5 L194,597.5 Q187,598.5 183,594 Q176.5,586 175,575 Z" /><path class="o" d="M187,577.5 L209.5,577.5 L209.8,589.5 L194,597.5 Q190,597.5 188,595 Z" style="fill:#e4e4e4"/><path class="t" d="M176,571 L187,577.5 M178,575 L183,590 M181,572 L186,588 M185,573 L188,586" style="stroke:#555"/><path class="t" d="M189.5,573 L192,576.5 M195,574 L197.5,577 M184,570 L186,574" style="stroke:#555"/><ellipse class="o" cx="199.8" cy="586.5" rx="1.9" ry="2.4" /><path class="o" d="M246.5,608.5 L255,612.5 L252.5,619 L244,615 Q243,611 246.5,608.5 Z" /><ellipse class="o" cx="257.6" cy="615.9" rx="3.7" ry="5.4" transform="rotate(25.0 257.6 615.9)" /><ellipse class="on" cx="257.8" cy="616.0" rx="1.2" ry="1.5" /><ellipse class="o" cx="481.7" cy="565.0" rx="9.3" ry="13.5" transform="rotate(30.0 481.7 565.0)" style="stroke-width:1.1;stroke:#444"/><ellipse class="o" cx="482.6" cy="565.8" rx="9.0" ry="13.2" transform="rotate(30.0 482.6 565.8)" style="stroke:#444"/><ellipse class="o" cx="482.8" cy="565.7" rx="3.4" ry="6.2" transform="rotate(30.0 482.8 565.7)" style="stroke-width:1.1;stroke:#444"/><path class="o" d="M386.5,612.5 L401.5,605.7 Q407.5,606 407.5,612 Q407,615.5 404,617 L394.7,623 Z" style="fill:#a6a6a6"/><path class="t" d="M389.0,611.5 L391.2,621.0" style="stroke:#777;stroke-width:0.6"/><path class="t" d="M391.1,610.5 L393.3,620.0" style="stroke:#777;stroke-width:0.6"/><path class="t" d="M393.2,609.6 L395.4,619.1" style="stroke:#777;stroke-width:0.6"/><path class="t" d="M395.3,608.6 L397.5,618.1" style="stroke:#777;stroke-width:0.6"/><path class="t" d="M397.4,607.7 L399.6,617.2" style="stroke:#777;stroke-width:0.6"/><path class="t" d="M399.5,606.8 L401.7,616.2" style="stroke:#777;stroke-width:0.6"/><path class="t" d="M401.6,605.8 L403.8,615.3" style="stroke:#777;stroke-width:0.6"/><path class="t" d="M403.7,604.9 L405.9,614.4" style="stroke:#777;stroke-width:0.6"/><ellipse class="o" cx="390.2" cy="617.8" rx="3.6" ry="5.4" transform="rotate(30.0 390.2 617.8)" style="fill:#d6d6d6"/><path class="on" d="M403.7,606 Q409,601.5 414,605 Q417.5,608 415.5,610.5 Q413.5,611.5 413,609.5" style="stroke-width:0.9"/><path class="on" d="M387.2,614.7 Q381,617 381.2,621.5 Q381.5,626 385,626.2 Q387,625.5 386,623.8" style="stroke-width:0.9"/><path class="o" d="M585,239.2 L605.5,239.2 Q607.3,243 605.5,246.8 L585,246.8 Z" /><path class="t" d="M588,239.6 L587,246.4" /><path class="t" d="M591,239.6 L590,246.4" /><path class="t" d="M594,239.6 L593,246.4" /><path class="t" d="M597,239.6 L596,246.4" /><path class="t" d="M600,239.6 L599,246.4" /><path class="t" d="M603,239.6 L602,246.4" /><path class="o" d="M575.5,237.6 L582,237.2 L586,239.5 L586.5,248 L582.5,251 L575.5,251 L573,247.5 L572.8,241 Z" /><path class="on" d="M577.5,237.5 L577,251 M582.5,237.5 L582.5,251 M573,241 L577.3,241.5 L582.5,240.5 L586,241" style="stroke-width:0.8"/><ellipse class="o" cx="616.1" cy="241.8" rx="5.1" ry="6.8" style="fill:#e2e2e2;stroke-width:1.4"/><ellipse class="o" cx="616.1" cy="241.2" rx="2.5" ry="4.0" /><ellipse class="o" cx="650.0" cy="240.8" rx="5.0" ry="6.8" style="fill:#e2e2e2;stroke-width:1.4"/><ellipse class="o" cx="650.0" cy="240.2" rx="2.5" ry="4.0" /><path class="o" d="M696,199.5 Q698,196.5 702,197.2 L704.5,199 Q706.5,202.5 705.6,205.8 Q703.5,208.3 699.8,207.6 L697.2,205.8 Q694.5,202.5 696,199.5 Z" style="fill:#d8d8d8"/><path class="t" d="M697.5,199 L699,206.5 M700,198 L701.5,207 M702.5,198.3 L703.8,207" style="stroke:#888"/><path class="o" d="M717.4,208.5 L748.6,226.9 Q749.8,229.3 746,230.7 L715.5,213.5 Z" /><path class="o" d="M708.5,205.8 Q711,203.2 715,204.6 L717.6,208.2 L716.2,213.4 Q712,214.6 709,212.2 Q706.6,209 708.5,205.8 Z" style="fill:#bcbcbc"/><path class="o" d="M749,187 L752.1,181.9 L763.6,178.7 L767.8,176.6 L774,178.7 L786.6,185 L794,190.2 L797,195.4 L797,203.8 L791.9,205.9 L778.3,203.8 L767.8,197.5 L759.4,193.4 L753.2,195.4 L750,192.3 Z" /><path class="on" d="M763.6,178.7 L767,190 L767.8,197.5 M774,179.5 L777.5,182.5 L778.3,203.8 M786.6,185 L789,191 L789,204.8 M767,190 L777.5,193" /><ellipse class="o" cx="754.4" cy="189.2" rx="2.8" ry="2.6" /><ellipse class="on" cx="754.5" cy="189.4" rx="1.1" ry="1.0" /><path class="o" d="M787,210 L792.9,203.8 L801.3,199.6 L807.5,200.7 L813.8,204.9 L824.3,208 L830.5,216.4 L831.5,229 L830,237 L826,234 L824,230 L810,224 L798,218 L790,216 L787.5,213.5 Z" /><path class="on" d="M801.3,199.6 L804,206 L806,221 M807.5,200.7 L811,204 L812,207 L822,212 L830.5,216.4" /><ellipse class="o" cx="791.5" cy="211.5" rx="2.8" ry="2.6" /><ellipse class="on" cx="791.6" cy="211.7" rx="1.1" ry="1.0" /><path class="o" d="M794,265.5 L797,264.5 L810,263 L825,260.5 L840,257 L850,253.5 L856,252 L862,253.5 L868,258 L871,263 L871,269 L868,276 L863,284 L856,287.5 L850,286 L840,284.5 L820,284.5 L800,288 L788,295 Z" /><path class="t" d="M796,267 L853,259" /><ellipse class="o" cx="820.0" cy="275.0" rx="2.0" ry="3.2" transform="rotate(20.0 820.0 275.0)" /><path class="on" d="M851,257 Q846,272 852,287" /><ellipse class="o" cx="859.6" cy="272.3" rx="7.4" ry="10.4" transform="rotate(20.0 859.6 272.3)" style="stroke-width:1.1"/><path class="t" d="M853.5,267 L865,281 M852,279 L866,268" /><path class="o" d="M741,305 L741.7,328 L744,330 L744,326 L747,326 L747,332.4 L750,332.4 L777,322 L778.5,298 L765,300 Z" /><path class="t" d="M744.5,306 L744.5,324 M741.2,318 L744.5,318" /><path class="o" d="M717,259.5 L724,256 L737,258 L737,283 L724.5,283.5 L719.5,279 Q716,275 716.2,270 L716.2,262 Z" /><ellipse class="o" cx="718.8" cy="267.5" rx="1.8" ry="2.8" /><path class="t" d="M716.5,262.5 L730,266" /><path class="o" d="M735,246.2 L742.5,244 L750,242.5 L768,247 L789,256 L795,263.5 L795,287 L789,293.5 L769.5,289 L730.5,272.5 L731.5,252 Z" /><path class="on" d="M735,246.2 L735.5,250 L768,258 L789,256 M768,258 L768,289" /><path class="on" d="M736,250.5 L754.5,256 L754.5,275.5 L733.5,269.5 Z" /><path class="t" d="M738,253 L752.5,257.5 L752.5,273 L736,268.5 Z" /><path class="o" d="M784,266 Q777,268 776,278 Q776.5,287 783,290.5 L794.5,290 L794.5,266 Z" /><path class="t" d="M770,252 L770,288 M772.5,253 L772.5,289" /><path class="o" d="M750,242.5 L750,233 Q753,228.5 757,229 L762,230.5 Q767,233 768,236.5 L768,247" /><path class="o" d="M760.5,239 L771,243 Q774.5,246 773,251 L763,249 Q759.5,246 760.5,239 Z" style="fill:#e6e6e6"/><ellipse class="o" cx="771.3" cy="247.2" rx="2.4" ry="3.8" transform="rotate(-15.0 771.3 247.2)" /><path class="o" d="M778,258 L778,246 Q779.5,242 783,242.5 L787,244.5 L790,249 L793.5,250 L796.5,254 L796,262" /><ellipse class="o" cx="783.7" cy="250.7" rx="1.6" ry="2.4" /><ellipse class="o" cx="791.2" cy="254.4" rx="1.5" ry="2.2" /><path class="o" d="M728.5,284 L732,281 L764,295 L767,305 L758,308 L752,307.5 L728,295 Q725.5,290 728.5,284 Z" /><ellipse class="o" cx="757.5" cy="301.7" rx="5.0" ry="6.0" transform="rotate(-20.0 757.5 301.7)" /><ellipse class="on" cx="758.2" cy="302.2" rx="3.3" ry="4.2" transform="rotate(-20.0 758.2 302.2)" /><path class="t" d="M730,285 L733,293 M733,283 L736,291" /><path class="o" style="fill:#fff" d="M788.9,376.0 L811.9,389.0 A1.0,2.3 29.5 0 1 814.1,385.0 L791.1,372.0 Z"/><path class="o" d="M786,370.5 L791,368.8 L797,372 L796,379 L791,381 L785.5,378 Z" style="fill:#ddd"/><path class="t" d="M789,369.8 L788,379.6 M793,370.6 L792.5,380.3" /><ellipse class="o" cx="786.2" cy="374.3" rx="1.8" ry="3.6" transform="rotate(30.0 786.2 374.3)" /><path class="o" style="fill:#fff" d="M719.7,395.0 L747.2,413.0 A1.1,2.4 33.2 0 1 749.8,409.0 L722.3,391.0 Z"/><ellipse class="o" cx="717.5" cy="391.5" rx="4.2" ry="6.0" transform="rotate(35.0 717.5 391.5)" style="fill:#cfcfcf"/><path class="t" d="M719,386.5 L716,396.5 M721.5,388 L718.5,398" style="stroke:#666"/><path class="o" style="fill:#c6c6c6" d="M832.9,405.3 L849.9,414.8 A1.9,4.3 29.2 0 1 854.1,407.2 L837.1,397.7 Z"/><ellipse class="o" cx="832.6" cy="401.5" rx="4.6" ry="6.4" transform="rotate(30.0 832.6 401.5)" style="fill:#7a7a7a"/><ellipse class="o" cx="833.4" cy="401.9" rx="2.8" ry="4.3" transform="rotate(30.0 833.4 401.9)" style="fill:#bbb"/><path class="t" d="M838,398 L835,405.5 M840.5,399.5 L837.5,407" /><ellipse class="o" cx="865.6" cy="418.5" rx="6.6" ry="7.3" style="fill:#7e7e7e"/><ellipse class="o" cx="866.8" cy="419.0" rx="4.2" ry="4.9" style="fill:#d8d8d8"/><path class="o" d="M715,452.5 L727.5,444 L735,447 L738,453 L747.5,457.5 L745,461 L738.5,460 L736,466 L730,465.5 L731,459.5 L722,456 L716,455.5 Z" /><path class="on" d="M715,452.5 L722,452.5 L735,447 M722,452.5 L731,459.5 M738,453 L738.5,460" /><circle cx="726" cy="450" r="0.9" fill="#333"/><path class="o" d="M713.75,482.5 L717.5,480 L733.75,490 L742.5,497.5 L743.75,501 L738.75,500 L735,496 L715,490 Z" /><path class="on" d="M714.5,485 L734,493 M725,486 L729,494 L733,493" /><path class="o" d="M788.3,451.4 L811.5,462.7 L803.6,480.2 L782.6,468.9 Q779.5,465 781,458 Q783.5,451 788.3,451.4 Z" /><ellipse class="o" cx="807.5" cy="471.4" rx="6.2" ry="10.2" transform="rotate(28.0 807.5 471.4)" /><path class="on" d="M803,463 Q799.5,470.5 802,479" style="stroke:#aaa;stroke-width:1.6"/><ellipse class="o" cx="823.3" cy="481.1" rx="8.9" ry="13.2" transform="rotate(30.0 823.3 481.1)" style="fill:#8a8a8a;stroke-width:1.1;stroke:#222"/><ellipse class="o" cx="823.3" cy="481.1" rx="6.7" ry="11.0" transform="rotate(30.0 823.3 481.1)" style="stroke-width:1.1;stroke:#222"/><ellipse class="o" cx="841.2" cy="492.4" rx="8.9" ry="13.2" transform="rotate(30.0 841.2 492.4)" style="fill:#8a8a8a;stroke-width:1.1;stroke:#222"/><ellipse class="o" cx="841.2" cy="492.4" rx="6.7" ry="11.0" transform="rotate(30.0 841.2 492.4)" style="stroke-width:1.1;stroke:#222"/><path class="on" d="M808,471 L816,475.5 M826,483 L833,486.5 M845,494 L851.5,497.5" style="stroke:#999;stroke-width:0.7"/><rect x="508" y="325" width="13.6" height="35" fill="#fff"/><rect x="427.6" y="386" width="4.4" height="19" fill="#fff"/><path class="dd" d="M430.0,374.0 L430.0,407.0"/><path class="ld" d="M270.5,106.0 L277.0,106.0 L292.0,121.4"/><path class="ld" d="M327.0,142.9 L332.5,142.9 L350.6,150.6"/><path class="ld" d="M327.0,211.2 L333.8,211.2 L355.0,199.4"/><path class="ld" d="M498.8,133.8 L492.5,134.0 L460.6,141.2"/><path class="ld" d="M492.5,134.0 L455.0,166.2"/><path class="ld" d="M455.0,109.0 L507.0,117.0"/><path class="ld" d="M456.0,195.0 L507.0,206.0"/><path class="ld" d="M212.7,287.3 L218.5,287.3 L241.0,266.5"/><path class="ld" d="M317.5,290.5 L324.0,290.5 L336.4,278.0"/><path class="ld" d="M498.8,318.0 L492.5,318.0 L471.9,257.5"/><path class="ld" d="M492.5,318.0 L471.2,283.8"/><path class="ld" d="M492.5,318.0 L470.6,313.1"/><path class="ld" d="M492.5,318.0 L441.0,365.0"/><path class="ld" d="M494.0,400.0 L486.0,400.0 L436.0,411.0"/><path class="ld" d="M497.0,446.0 L487.5,446.5 L442.5,442.0"/><path class="ld" d="M352.0,411.2 L358.4,411.2 L371.0,420.7"/><path class="ld" d="M335.5,434.0 L341.8,434.0 L362.2,442.4"/><path class="ld" d="M173.4,374.9 L179.6,374.9 L192.6,393.0"/><path class="ld" d="M203.0,454.9 L211.2,454.9 L231.2,430.8"/><path class="ld" d="M211.2,454.9 L243.5,436.3"/><path class="ld" d="M154.4,548.6 L161.3,548.6 L173.6,537.0"/><path class="ld" d="M155.8,611.3 L162.6,611.3 L179.0,589.3"/><path class="ld" d="M230.0,627.8 L238.3,627.8 L248.0,616.8"/><path class="ld" d="M417.6,629.1 L410.5,629.1 L403.0,619.6"/><path class="ld" d="M510.4,535.3 L501.7,536.0 L490.3,552.8"/><path class="ld" d="M578.0,209.2 L585.2,209.2 L590.9,239.6"/><path class="ld" d="M610.0,197.5 L615.6,197.5 L619.0,235.1"/><path class="ld" d="M615.6,197.5 L649.4,234.0"/><path class="ld" d="M722.9,117.7 L715.1,117.7 L702.0,197.5"/><path class="ld" d="M757.4,137.3 L750.0,137.3 L729.0,212.0"/><path class="ld" d="M821.0,176.6 L813.8,176.6 L793.0,190.2"/><path class="ld" d="M813.8,176.6 L808.6,200.7"/><path class="ld" d="M862.0,203.0 L857.0,203.0 L842.0,254.0"/><path class="ld" d="M830.0,367.5 L821.0,367.5 L806.0,378.0"/><path class="ld" d="M758.6,385.5 L750.5,385.5 L735.5,396.0"/><path class="ld" d="M762.5,438.0 L753.5,438.0 L740.0,450.0"/><path class="ld" d="M845.0,430.0 L844.0,415.0"/><path class="ld" d="M845.0,430.0 L860.0,420.0"/><path class="ld" d="M838.0,447.0 L830.0,470.0"/><path class="ld" d="M838.0,447.0 L846.0,480.0"/><path class="ld" d="M762.5,489.5 L753.5,489.5 L744.5,495.0"/><path class="ld" d="M782.0,299.0 L793.0,352.5"/><path class="ld" d="M784.0,299.0 L801.4,352.5"/><path class="br" d="M512.3,107.3 Q514.9,108 514.9,111.5 L514.9,271.5 Q514.9,275 518.3,276.8 Q514.9,278.5 514.9,282 L514.9,445 Q514.9,450.5 512.2,452.6"/><path class="br" d="M689.4,85.5 Q689.4,81.3 693,83.2 L796.5,143.7 Q800.3,145.3 802.2,142.2 Q802.6,146.2 806,148.3 L894,203.3 Q897.4,205.3 897.4,209"/><path class="br" d="M129,643.5 Q129,648.5 134,648.5 L209,648.8 Q213.5,649 213.5,653 Q213.5,649 218,649 L291.5,649.2 Q296,649.2 296,646"/><text x="262.10" y="110.90">8</text><text x="318.10" y="145.90">6</text><text x="318.10" y="212.90">6</text><text x="502.10" y="136.90">2</text><text x="203.10" y="290.90">7</text><text x="301.10" y="293.30">3</text><text x="307.77" y="293.30">0</text><path d="M529.46,281.90 L529.46,273.31 L528.08,273.31 L527.74,274.04 L527.00,274.70 L526.10,275.20 L525.44,275.42 L525.44,276.80 L526.40,276.44 L527.12,276.02 L527.74,275.54 L527.74,281.90Z" fill="#222"/><text x="500.60" y="322.90">3</text><text x="495.10" y="404.40">4</text><text x="497.10" y="450.90">5</text><text x="343.50" y="414.90">9</text><path d="M324.76,437.90 L324.76,429.31 L323.38,429.31 L323.04,430.04 L322.30,430.70 L321.40,431.20 L320.74,431.42 L320.74,432.80 L321.70,432.44 L322.42,432.02 L323.04,431.54 L323.04,437.90Z" fill="#222"/><text x="326.57" y="437.90">0</text><path d="M164.16,378.10 L164.16,369.51 L162.78,369.51 L162.44,370.24 L161.70,370.90 L160.80,371.40 L160.14,371.62 L160.14,373.00 L161.10,372.64 L161.82,372.22 L162.44,371.74 L162.44,378.10Z" fill="#222"/><text x="165.97" y="378.10">5</text><path d="M193.36,460.50 L193.36,451.91 L191.98,451.91 L191.64,452.64 L190.90,453.30 L190.00,453.80 L189.34,454.02 L189.34,455.40 L190.30,455.04 L191.02,454.62 L191.64,454.14 L191.64,460.50Z" fill="#222"/><text x="195.17" y="460.50">6</text><path d="M143.56,553.30 L143.56,544.71 L142.18,544.71 L141.84,545.44 L141.10,546.10 L140.20,546.60 L139.54,546.82 L139.54,548.20 L140.50,547.84 L141.22,547.42 L141.84,546.94 L141.84,553.30Z" fill="#222"/><text x="145.37" y="553.30">2</text><path d="M145.96,616.90 L145.96,608.31 L144.58,608.31 L144.24,609.04 L143.50,609.70 L142.60,610.20 L141.94,610.42 L141.94,611.80 L142.90,611.44 L143.62,611.02 L144.24,610.54 L144.24,616.90Z" fill="#222"/><text x="147.77" y="616.90">3</text><path d="M220.56,632.90 L220.56,624.31 L219.18,624.31 L218.84,625.04 L218.10,625.70 L217.20,626.20 L216.54,626.42 L216.54,627.80 L217.50,627.44 L218.22,627.02 L218.84,626.54 L218.84,632.90Z" fill="#222"/><text x="222.37" y="632.90">4</text><path d="M211.96,665.90 L211.96,657.31 L210.58,657.31 L210.24,658.04 L209.50,658.70 L208.60,659.20 L207.94,659.42 L207.94,660.80 L208.90,660.44 L209.62,660.02 L210.24,659.54 L210.24,665.90Z" fill="#222"/><path d="M218.63,665.90 L218.63,657.31 L217.25,657.31 L216.92,658.04 L216.17,658.70 L215.27,659.20 L214.61,659.42 L214.61,660.80 L215.57,660.44 L216.29,660.02 L216.92,659.54 L216.92,665.90Z" fill="#222"/><path d="M423.96,633.70 L423.96,625.11 L422.58,625.11 L422.24,625.84 L421.50,626.50 L420.60,627.00 L419.94,627.22 L419.94,628.60 L420.90,628.24 L421.62,627.82 L422.24,627.34 L422.24,633.70Z" fill="#222"/><text x="425.77" y="633.70">7</text><path d="M514.96,538.90 L514.96,530.31 L513.58,530.31 L513.24,531.04 L512.50,531.70 L511.60,532.20 L510.94,532.42 L510.94,533.80 L511.90,533.44 L512.62,533.02 L513.24,532.54 L513.24,538.90Z" fill="#222"/><text x="516.77" y="538.90">8</text><path d="M566.36,211.90 L566.36,203.31 L564.98,203.31 L564.64,204.04 L563.90,204.70 L563.00,205.20 L562.34,205.42 L562.34,206.80 L563.30,206.44 L564.02,206.02 L564.64,205.54 L564.64,211.90Z" fill="#222"/><text x="568.17" y="211.90">9</text><text x="600.90" y="201.30">6</text><text x="724.10" y="121.30">2</text><path d="M735.63,121.30 L735.63,112.71 L734.25,112.71 L733.92,113.44 L733.17,114.10 L732.27,114.60 L731.61,114.82 L731.61,116.20 L732.57,115.84 L733.29,115.42 L733.92,114.94 L733.92,121.30Z" fill="#222"/><text x="757.90" y="140.90">2</text><text x="764.57" y="140.90">2</text><text x="801.70" y="139.90">2</text><text x="808.37" y="139.90">0</text><text x="821.50" y="180.10">2</text><text x="828.17" y="180.10">3</text><text x="864.50" y="206.70">2</text><text x="871.17" y="206.70">4</text><text x="830.90" y="371.90">2</text><text x="837.57" y="371.90">9</text><text x="759.10" y="389.90">2</text><text x="765.77" y="389.90">6</text><text x="763.10" y="442.50">2</text><text x="769.77" y="442.50">5</text><text x="835.10" y="445.50">2</text><text x="841.77" y="445.50">8</text><text x="763.10" y="494.70">2</text><text x="769.77" y="494.70">7</text><svg x="1030" y="700" width="70" height="21" overflow="hidden"><text x="9.3" y="25.5" style="font-size:13.5px;font-weight:bold">33 / 40</text></svg></svg></body></html>
